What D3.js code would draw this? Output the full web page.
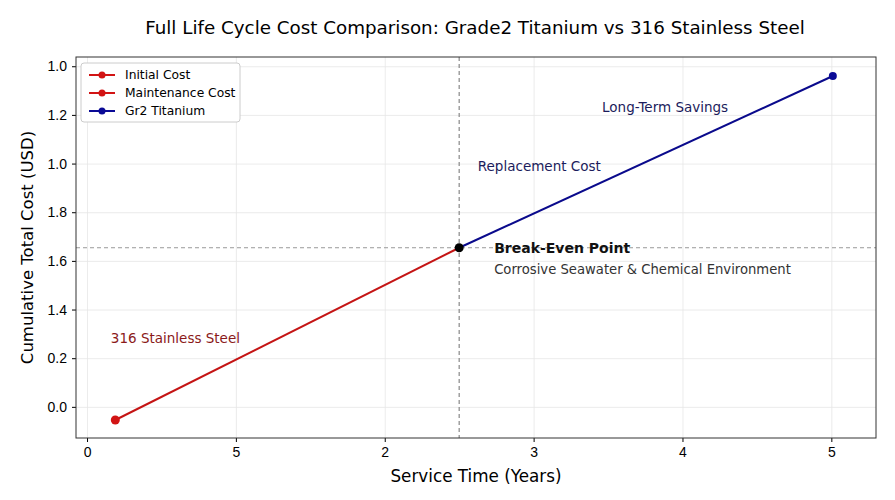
<!DOCTYPE html>
<html>
<head>
<meta charset="utf-8">
<script src="https://cdn.jsdelivr.net/npm/d3@7"></script>
<style>
  body { margin: 0; background: #fff; }
  svg { font-family: "DejaVu Sans", sans-serif; }
  .grid line { stroke: #e6e6e6; stroke-width: 0.8; }
  .grid .domain { display: none; }
</style>
</head>
<body>
<svg id="chart" width="895" height="500"></svg>
<script>
// data (x in tick steps, y in tick steps; tick labels as printed)
var xTicks = [0, 1, 2, 3, 4, 5];
var xTickLabels = ["0", "5", "2", "3", "4", "5"];
var yTicks = [0, 1, 2, 3, 4, 5, 6, 7];
var yTickLabels = ["0.0", "0.2", "1.4", "1.6", "1.8", "1.0", "1.2", "1.0"];
var steelYears = [0.19, 2.5];
var steelCost = [-0.27, 3.27];
var titaniumYears = [2.5, 5.01];
var titaniumCost = [3.27, 6.8];
var breakEven = {x: 2.5, y: 3.27};
var legendLabels = ["Initial Cost", "Maintenance Cost", "Gr2 Titanium"];
var legendColors = ["#d21414", "#d21414", "#0a0a96"];

var svg = d3.select("#chart"),
    margin = {top: 57, right: 19, bottom: 62, left: 76},
    width = +svg.attr("width") - margin.left - margin.right,
    height = +svg.attr("height") - margin.top - margin.bottom,
    g = svg.append("g").attr("transform", "translate(" + margin.left + "," + margin.top + ")");

var x = d3.scaleLinear().domain([-0.074, 5.3]).range([0, width]);
var y = d3.scaleLinear().domain([-0.64, 7.19]).range([height, 0]);

// grid
g.append("g").attr("class", "grid")
    .attr("transform", "translate(0," + height + ")")
    .call(d3.axisBottom(x).tickValues(xTicks).tickSize(-height).tickFormat(""));
g.append("g").attr("class", "grid")
    .call(d3.axisLeft(y).tickValues(yTicks).tickSize(-width).tickFormat(""));

// reference lines
g.append("line")
    .attr("x1", x(breakEven.x)).attr("x2", x(breakEven.x))
    .attr("y1", 0).attr("y2", height)
    .attr("stroke", "#888").attr("stroke-width", 1.2).attr("stroke-dasharray", "4,3");
g.append("line")
    .attr("x1", 0).attr("x2", width)
    .attr("y1", y(breakEven.y)).attr("y2", y(breakEven.y))
    .attr("stroke", "#999").attr("stroke-width", 1).attr("stroke-dasharray", "4,3");

var line = d3.line().x(function(d) { return x(d[0]); }).y(function(d) { return y(d[1]); });
var steel = d3.zip(steelYears, steelCost);
var titanium = d3.zip(titaniumYears, titaniumCost);

g.append("path").datum(steel)
    .attr("fill", "none").attr("stroke", "#c41414").attr("stroke-width", 2)
    .attr("d", line);
g.append("path").datum(titanium)
    .attr("fill", "none").attr("stroke", "#0a0a8c").attr("stroke-width", 2)
    .attr("d", line);

g.append("circle").attr("cx", x(steel[0][0])).attr("cy", y(steel[0][1])).attr("r", 4.5).attr("fill", "#d21414");
g.append("circle").attr("cx", x(titanium[1][0])).attr("cy", y(titanium[1][1])).attr("r", 4).attr("fill", "#0a0a96");
g.append("circle").attr("cx", x(breakEven.x)).attr("cy", y(breakEven.y)).attr("r", 4.5).attr("fill", "#000");

// axes
var xAxis = g.append("g")
    .attr("transform", "translate(0," + height + ")")
    .call(d3.axisBottom(x).tickValues(xTicks).tickSize(4).tickPadding(5)
      .tickFormat(function(d, i) { return xTickLabels[i]; }));
var yAxis = g.append("g")
    .call(d3.axisLeft(y).tickValues(yTicks).tickSize(4).tickPadding(5)
      .tickFormat(function(d, i) { return yTickLabels[i]; }));
[xAxis, yAxis].forEach(function(a) {
  a.selectAll("text").style("font-size", "14px").attr("fill", "#000");
  a.select(".domain").remove();
});

g.append("rect").attr("width", width).attr("height", height)
    .attr("fill", "none").attr("stroke", "#333").attr("stroke-width", 1);

// titles
svg.append("text")
    .attr("x", margin.left + width / 2 - 1).attr("y", 34)
    .attr("text-anchor", "middle").style("font-size", "18.3px")
    .text("Full Life Cycle Cost Comparison: Grade2 Titanium vs 316 Stainless Steel");
svg.append("text")
    .attr("x", margin.left + width / 2).attr("y", 482)
    .attr("text-anchor", "middle").style("font-size", "16.8px")
    .text("Service Time (Years)");
svg.append("text")
    .attr("transform", "translate(33," + (margin.top + height / 2) + ") rotate(-90)")
    .attr("text-anchor", "middle").style("font-size", "16.5px")
    .text("Cumulative Total Cost (USD)");

// annotations
g.append("text").attr("x", x(0.16)).attr("y", y(1.39) + 4)
    .attr("fill", "#8b1a1a").style("font-size", "13.5px").text("316 Stainless Steel");
g.append("text").attr("x", x(2.625)).attr("y", y(4.88) + 2)
    .attr("fill", "#1c1c5c").style("font-size", "13.5px").text("Replacement Cost");
g.append("text").attr("x", x(3.46)).attr("y", y(6.11) + 2)
    .attr("fill", "#1c1c5c").style("font-size", "13.5px").text("Long-Term Savings");
g.append("text").attr("x", x(2.735)).attr("y", y(3.27) + 5)
    .attr("fill", "#111").style("font-size", "14px").style("font-weight", "bold").text("Break-Even Point");
g.append("text").attr("x", x(2.735)).attr("y", y(3.27) + 26)
    .attr("fill", "#333").style("font-size", "13.2px").text("Corrosive Seawater & Chemical Environment");

// legend
var lg = g.append("g").attr("transform", "translate(5,6)");
lg.append("rect").attr("width", 159).attr("height", 59).attr("rx", 3)
    .attr("fill", "#fff").attr("stroke", "#ccc");
var item = lg.selectAll(".item").data(legendLabels).enter().append("g")
    .attr("transform", function(d, i) { return "translate(8," + (12 + i * 18) + ")"; });
item.append("line").attr("x1", 0).attr("x2", 26)
    .attr("stroke", function(d, i) { return legendColors[i]; }).attr("stroke-width", 2);
item.append("circle").attr("cx", 13).attr("r", 3.5)
    .attr("fill", function(d, i) { return legendColors[i]; });
item.append("text").attr("x", 36).attr("dy", "0.35em")
    .style("font-size", "12.3px").text(function(d) { return d; });
</script>
</body>
</html>
